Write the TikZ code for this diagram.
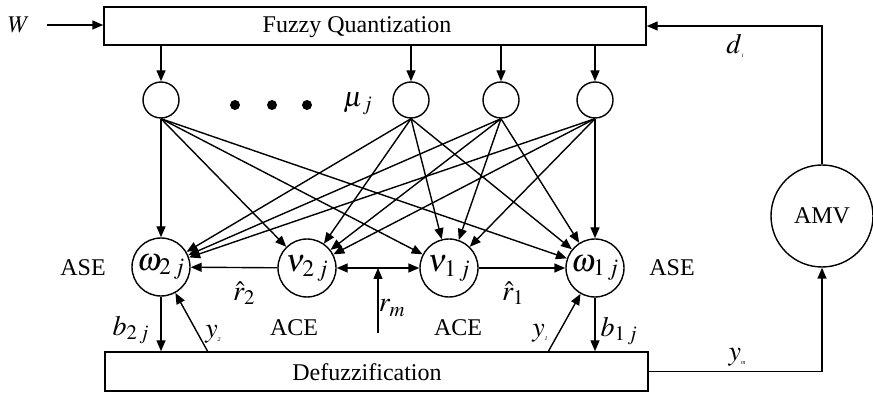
\documentclass[tikz,border=0pt]{standalone}
\usepackage{mathptmx}
\usepackage{fontspec}
\setmainfont{Liberation Serif}
\usetikzlibrary{arrows.meta,calc}
\newcommand\tsub[1]{\raisebox{-4pt}{\fontsize{6}{6}\selectfont\textit{#1}}}
\begin{document}
\begin{tikzpicture}[x=1pt,y=-1pt, line width=1.4pt,
  >={Triangle[length=11pt,width=9pt]},
  box/.style={draw, rectangle, inner sep=0pt},
  unit/.style={draw, circle, minimum size=58pt, inner sep=0pt, font=\fontsize{32}{34}\selectfont},
  inp/.style={draw, circle, minimum size=36pt, inner sep=0pt},
  dotn/.style={fill, circle, minimum size=10pt, inner sep=0pt},
  txt/.style={font=\fontsize{24}{26}\selectfont, inner sep=0pt},
  mth/.style={font=\fontsize{28}{30}\selectfont, inner sep=0pt}]
\useasboundingbox (0,0) rectangle (873,395);

% boxes
\node[box, minimum width=542pt, minimum height=38pt] (fq) at (375,26) {};
\node[txt] (fqt) at (357,27) {Fuzzy Quantization};
\node[box, minimum width=543pt, minimum height=39pt] (dz) at (376.5,371.5) {};
\node[txt] (dzt) at (367,372) {Defuzzification};

% input
\node[txt] (W) at (19,25) {$W$};
\coordinate (win) at (47,25);
\draw[->] (win) -- (win -| fq.west);

% top units
\node[inp] (t1) at (161,100) {};
\node[inp] (t2) at (411,100) {};
\node[inp] (t3) at (501,100) {};
\node[inp] (t4) at (595,100) {};
\foreach \t in {t1,t2,t3,t4} \draw[->] (\t |- fq.south) -- (\t.north);
\node[dotn] (d1) at (235,105) {};
\node[dotn] (d2) at (272,105) {};
\node[dotn] (d3) at (307,105) {};
\node[mth] (mu) at (358,104) {$\mu_{\,j}$};

% bottom units
\node[unit] (w2) at (161,267) {$\omega_{2\,j}$};
\node[unit] (v2) at (307,268) {$\nu_{2\,j}$};
\node[unit] (v1) at (449,268) {$\nu_{1\,j}$};
\node[unit] (w1) at (595,268) {$\omega_{1\,j}$};

\foreach \s in {t1,t2,t3,t4}
  \foreach \d in {w2,v2,v1,w1}
    \draw[->] (\s.south) -- (\d);

\draw[->] (v2) -- (w2);
\draw[<->] (v2) -- (v1);
\draw[->] (v1) -- (w1);
\coordinate (rmb) at (378,333);
\draw[->] (rmb) -- (rmb |- v2);

\draw[->] (w2.south) -- (w2.south |- dz.north);
\coordinate (y2s) at (208,352);
\draw[->] (y2s) -- (w2);
\coordinate (y1s) at (548,352);
\draw[->] (y1s) -- (w1);
\draw[->] (w1.south) -- (w1.south |- dz.north);

% AMV
\node[draw, circle, minimum size=102pt, txt] (amv) at (822,216) {AMV};
\draw[->] (dz.east) -| (amv.south);
\draw[->] (amv.north) |- (fq.east);

% labels
\node[txt] (ase2) at (83,268) {ASE};
\node[txt] (ase1) at (672,268) {ASE};
\node[txt] (ace2) at (294,328) {ACE};
\node[txt] (ace1) at (458,328) {ACE};
\node[mth] (r2) at (244,293) {$\hat r_2$};
\node[mth] (r1) at (513,293) {$\hat r_1$};
\node[mth] (rm) at (392,308) {$r_m$};
\node[mth] (b2) at (131,330) {$b_{2\,j}$};
\node[mth] (b1) at (619,331) {$b_{1\,j}$};
\node[mth] (y2l) at (213,334) {$y$\tsub{2}};
\node[mth] (y1l) at (540,333) {$y$\tsub{1}};
\node[mth] (yml) at (737,357) {$y$\tsub{m}};
\node[mth] (dl) at (735,46) {$d$\tsub{i}};
\end{tikzpicture}
\end{document}
